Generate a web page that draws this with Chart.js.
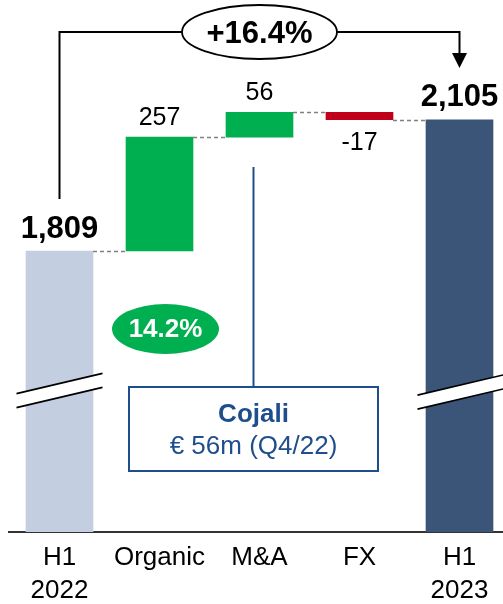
<!DOCTYPE html>
<html>
<head>
<meta charset="utf-8">
<script src="https://cdn.jsdelivr.net/npm/chart.js@4.4.1/dist/chart.umd.min.js"></script>
<style>
  html, body { margin: 0; padding: 0; background: #fff; }
  canvas { display: block; }
</style>
</head>
<body>
<canvas id="bridge" width="503" height="604"></canvas>
<script>
// Sales bridge H1 2022 -> H1 2023 (EUR m)
const categories = [['H1', '2022'], 'Organic', 'M&A', 'FX', ['H1', '2023']];
const startTotal = 1809;
const bridgeSteps = [257, 56, -17];
const endTotal = 2105;
const acquisitionName = 'Cojali';
const acquisitionPeriod = 'Q4/22';

// broken value axis: bars start from the visible floor
const axisFloor = 1175.5;
const axisCeil = 2375;

const FONT = '"Liberation Sans", Arial, sans-serif';
const barColors = ['#C3CEE0', '#00B050', '#00B050', '#C0001A', '#3A5577'];
const accentBlue = '#1F4E8C';

// running totals after each bar
const levels = [startTotal];
bridgeSteps.forEach(s => levels.push(levels[levels.length - 1] + s));

const ranges = [[axisFloor, startTotal]];
for (let i = 0; i < bridgeSteps.length; i++) ranges.push([levels[i], levels[i + 1]]);
ranges.push([axisFloor, endTotal]);

const fmt = v => v.toLocaleString('en-US');

const overlay = {
  id: 'bridgeOverlay',
  afterDatasetsDraw(chart) {
    const ctx = chart.ctx;
    const yS = chart.scales.y;
    const bars = chart.getDatasetMeta(0).data;
    const left = b => b.x - b.width / 2;
    const right = b => b.x + b.width / 2;
    const top = b => Math.min(b.y, b.base);
    const bottom = b => Math.max(b.y, b.base);

    ctx.save();

    // dashed connectors between bars
    ctx.strokeStyle = '#808080';
    ctx.lineWidth = 1.5;
    ctx.setLineDash([4, 3]);
    for (let i = 0; i < bars.length - 1; i++) {
      const y = Math.round(yS.getPixelForValue(levels[i])) + 0.5;
      ctx.beginPath();
      ctx.moveTo(right(bars[i]), y);
      ctx.lineTo(left(bars[i + 1]), y);
      ctx.stroke();
    }
    ctx.setLineDash([]);

    // axis break marks on the two total bars
    const breakMark = (cx, cy) => {
      const half = 43, slope = 0.235, gap = 14;
      ctx.beginPath();
      ctx.moveTo(cx - half, cy + half * slope);
      ctx.lineTo(cx + half, cy - half * slope);
      ctx.lineTo(cx + half, cy - half * slope + gap);
      ctx.lineTo(cx - half, cy + half * slope + gap);
      ctx.closePath();
      ctx.fillStyle = '#fff';
      ctx.fill();
      ctx.strokeStyle = '#000';
      ctx.lineWidth = 1.6;
      ctx.beginPath();
      ctx.moveTo(cx - half, cy + half * slope);
      ctx.lineTo(cx + half, cy - half * slope);
      ctx.moveTo(cx - half, cy + half * slope + gap);
      ctx.lineTo(cx + half, cy - half * slope + gap);
      ctx.stroke();
    };
    breakMark(bars[0].x, 383.5);
    breakMark(bars[4].x + 1, 385);

    // value labels
    ctx.fillStyle = '#000';
    ctx.textAlign = 'center';
    ctx.textBaseline = 'middle';
    ctx.font = 'bold 31px ' + FONT;
    ctx.fillText(fmt(startTotal), bars[0].x, top(bars[0]) - 22);
    ctx.fillText(fmt(endTotal), bars[4].x, top(bars[4]) - 22);
    ctx.font = '25px ' + FONT;
    bridgeSteps.forEach((s, i) => {
      const b = bars[i + 1];
      if (s >= 0) ctx.fillText(fmt(s), b.x, top(b) - 19);
      else ctx.fillText(fmt(s), b.x, bottom(b) + 23);
    });

    // growth bracket from first total to last total
    const x0 = bars[0].x, x4 = bars[4].x;
    const ex = (x0 + x4) / 2, ey = 32, rx = 77.5, ry = 27;
    ctx.strokeStyle = '#000';
    ctx.lineWidth = 2;
    ctx.beginPath();
    ctx.moveTo(x0, 199);
    ctx.lineTo(x0, ey);
    ctx.lineTo(ex - rx, ey);
    ctx.moveTo(ex + rx, ey);
    ctx.lineTo(x4, ey);
    ctx.lineTo(x4, 54);
    ctx.stroke();
    ctx.beginPath();
    ctx.moveTo(x4 - 7.5, 53);
    ctx.lineTo(x4 + 7.5, 53);
    ctx.lineTo(x4, 68);
    ctx.closePath();
    ctx.fillStyle = '#000';
    ctx.fill();

    ctx.beginPath();
    ctx.ellipse(ex, ey, rx, ry, 0, 0, Math.PI * 2);
    ctx.fillStyle = '#fff';
    ctx.fill();
    ctx.lineWidth = 1.8;
    ctx.stroke();
    const growth = (endTotal / startTotal - 1) * 100;
    ctx.fillStyle = '#000';
    ctx.font = 'bold 31px ' + FONT;
    ctx.fillText('+' + growth.toFixed(1) + '%', ex, ey + 2);

    // organic growth badge
    const gx = bars[1].x + 6, gy = 329;
    ctx.beginPath();
    ctx.ellipse(gx, gy, 53.5, 25, 0, 0, Math.PI * 2);
    ctx.fillStyle = '#00B050';
    ctx.fill();
    ctx.fillStyle = '#fff';
    ctx.font = 'bold 26px ' + FONT;
    ctx.fillText((bridgeSteps[0] / startTotal * 100).toFixed(1) + '%', gx, gy + 1);

    // acquisition callout
    const cx = 253.5;
    ctx.strokeStyle = accentBlue;
    ctx.lineWidth = 2;
    ctx.beginPath();
    ctx.moveTo(cx, 167);
    ctx.lineTo(cx, 387);
    ctx.stroke();
    ctx.fillStyle = '#fff';
    ctx.fillRect(129, 387, 249, 84);
    ctx.strokeRect(129, 387, 249, 84);
    ctx.fillStyle = accentBlue;
    ctx.font = 'bold 26px ' + FONT;
    ctx.fillText(acquisitionName, cx, 415);
    ctx.font = '26px ' + FONT;
    ctx.fillText('\u20AC ' + bridgeSteps[1] + 'm (' + acquisitionPeriod + ')', cx, 447);

    ctx.restore();
  }
};

new Chart(document.getElementById('bridge'), {
  type: 'bar',
  data: {
    datasets: [{
      data: ranges.map((r, i) => ({ x: i, y: r })),
      backgroundColor: barColors,
      borderWidth: 0,
      barThickness: 67
    }]
  },
  options: {
    responsive: false,
    animation: false,
    layout: { padding: { left: 9, right: 0, top: 0, bottom: 0 } },
    plugins: { legend: { display: false }, tooltip: { enabled: false } },
    scales: {
      x: {
        type: 'linear',
        min: -0.505,
        max: 4.435,
        offset: false,
        grid: { display: false, drawTicks: false },
        border: { display: true, color: '#333', width: 2 },
        afterBuildTicks: s => { s.ticks = categories.map((_, i) => ({ value: i })); },
        afterFit: s => { s.height = 72; },
        ticks: {
          autoSkip: false,
          maxRotation: 0,
          padding: 9,
          color: '#000',
          font: { family: FONT, size: 26, lineHeight: 1.27 },
          callback: v => categories[v]
        }
      },
      y: {
        display: false,
        min: axisFloor,
        max: axisCeil
      }
    }
  },
  plugins: [overlay]
});
</script>
</body>
</html>
